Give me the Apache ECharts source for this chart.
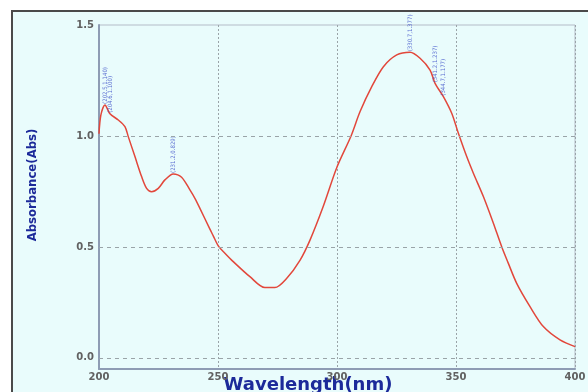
<!DOCTYPE html>
<html><head><meta charset="utf-8">
<script src="https://cdn.jsdelivr.net/npm/echarts@6/dist/echarts.min.js"></script>
<style>html,body{margin:0;padding:0;background:#fff}#c{width:588px;height:392px}</style>
</head><body><div id="c"></div>
<script>
const wavelength = [200, 200.8, 202.5, 204.6, 208.1, 210.9, 212.3, 215.1, 217.9, 220, 222.1, 224.9, 227.7, 231.2, 234.7, 238.2, 240.3, 242.4, 246.6, 248.0, 250.1, 252.9, 256.4, 263.4, 269.7, 273.9, 278.9, 284.5, 288.7, 294.2, 300, 305.9, 309.7, 314.6, 319.5, 325.1, 330.7, 334.9, 339.1, 341.2, 344.7, 348.2, 351, 354.5, 357.3, 361.5, 365.7, 369.2, 372, 375.5, 381.1, 386.7, 393.7, 400];
const absorbance = [1.01, 1.095, 1.14, 1.10, 1.072, 1.042, 0.997, 0.907, 0.817, 0.764, 0.749, 0.764, 0.802, 0.829, 0.814, 0.757, 0.719, 0.674, 0.580, 0.550, 0.505, 0.472, 0.434, 0.366, 0.317, 0.317, 0.359, 0.441, 0.532, 0.682, 0.86, 1.0, 1.11, 1.222, 1.312, 1.365, 1.377, 1.35, 1.297, 1.237, 1.177, 1.102, 1.012, 0.907, 0.832, 0.727, 0.607, 0.501, 0.426, 0.336, 0.231, 0.141, 0.081, 0.051];
const peakWl = [202.5, 204.6, 231.2, 330.7, 341.2, 344.7];
const peakAbs = [1.140, 1.100, 0.829, 1.377, 1.237, 1.177];
const peakLabels = ["(202.5,1.140)", "(204.6,1.100)", "(231.2,0.829)", "(330.7,1.377)", "(341.2,1.237)", "(344.7,1.177)"];
const yTicks = [0, 0.5, 1.0, 1.5];
const hGrid = [0, 0.5, 1.0];

const chart = echarts.init(document.getElementById('c'));
const tickFont = {color:'#616161', fontWeight:'bold', fontFamily:'DejaVu Sans', fontSize:10};
chart.setOption({
  animation:false,
  backgroundColor:'#ffffff',
  graphic:[{type:'rect', left:11, top:10, shape:{width:600, height:400}, style:{fill:'#e9fcfc', stroke:'#4a4a4a', lineWidth:2}, z:-10}],
  grid:{left:99, right:13, top:25, bottom:23, outerBoundsMode:'none', containLabel:false, show:true, borderColor:'#b4bcc8', borderWidth:1, backgroundColor:'transparent'},
  xAxis:{type:'value', min:200, max:400, interval:50,
    name:'Wavelength(nm)', nameLocation:'middle', nameGap:7, nameMoveOverlap:false,
    nameTextStyle:{color:'#1c2a9a', fontWeight:'bold', fontFamily:'DejaVu Sans', fontSize:18, padding:[0,58,0,0]},
    axisLine:{onZero:false, lineStyle:{color:'#8e9cb4', width:2}}, axisTick:{show:false},
    axisLabel:Object.assign({margin:3}, tickFont),
    splitLine:{show:true, lineStyle:{type:[2,2], color:'#9aa4a8', width:1}}},
  yAxis:{type:'value', min:-0.05, max:1.5,
    name:'Absorbance(Abs)', nameLocation:'middle', nameGap:60,
    nameTextStyle:{color:'#1c2a9a', fontWeight:'bold', fontFamily:'DejaVu Sans Condensed, Liberation Sans Narrow, Roboto Condensed, sans-serif', fontSize:13, padding:[0,0,0,24]},
    axisLine:{show:true, onZero:false, lineStyle:{color:'#8e9cb4', width:2}}, axisTick:{show:false},
    axisLabel:Object.assign({margin:5, customValues:yTicks, formatter:v=>v.toFixed(1)}, tickFont),
    splitLine:{show:false}},
  series:[
    {type:'line', data:wavelength.map((w,i)=>[w,absorbance[i]]), showSymbol:false, smooth:0.3,
     lineStyle:{color:'#e2473b', width:1.5}, z:3,
     markLine:{silent:true, symbol:['none','none'], label:{show:false},
       lineStyle:{type:[4,4], color:'#9aa4a8', width:1}, data:hGrid.map(v=>({yAxis:v}))}},
    {type:'scatter', data:peakWl.map((w,i)=>[w,peakAbs[i]]), symbolSize:0, z:4,
     label:{show:true, rotate:90, position:'top', distance:1, align:'left', verticalAlign:'middle',
       formatter:p=>peakLabels[p.dataIndex], color:'#3a4cc8', fontSize:6,
       fontFamily:'DejaVu Sans Condensed, Liberation Sans Narrow, sans-serif'}}
  ]
});
</script></body></html>
